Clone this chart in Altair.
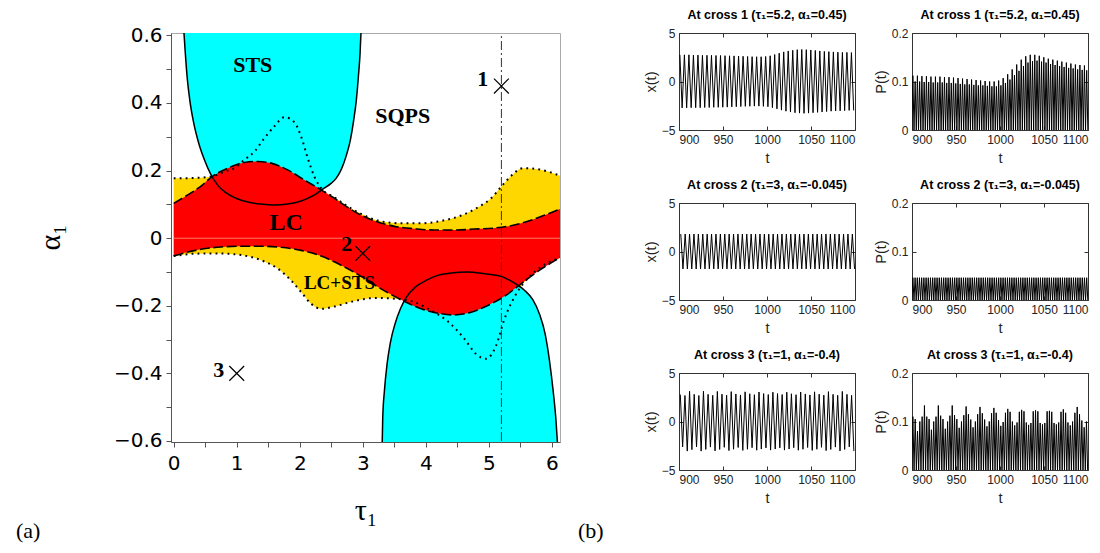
import altair as alt
import pandas as pd

# ---------------- (a) phase diagram: curves ----------------
sts_top_tau = [0.159, 0.180, 0.212, 0.254, 0.317, 0.397, 0.487, 0.593, 0.698, 0.815,
               0.989, 1.175, 1.386, 1.598, 1.810, 2.021, 2.206, 2.365, 2.497, 2.577,
               2.656, 2.735, 2.804, 2.857, 2.899, 2.931, 2.958, 2.974]
sts_top_alpha = [0.618, 0.558, 0.479, 0.410, 0.341, 0.281, 0.232, 0.187, 0.157, 0.136,
                 0.118, 0.107, 0.101, 0.098, 0.101, 0.110, 0.125, 0.145, 0.162, 0.177,
                 0.202, 0.242, 0.291, 0.350, 0.410, 0.479, 0.549, 0.618]

sts_bot_tau = [3.307, 3.317, 3.344, 3.386, 3.439, 3.513, 3.598, 3.688, 3.847, 4.005,
               4.190, 4.402, 4.667, 4.931, 5.196, 5.407, 5.566, 5.698, 5.804, 5.894,
               5.963, 6.021, 6.063, 6.095]
sts_bot_alpha = [-0.620, -0.531, -0.451, -0.372, -0.308, -0.253, -0.209, -0.176, -0.143, -0.125,
                 -0.110, -0.103, -0.100, -0.105, -0.113, -0.133, -0.154, -0.182, -0.224, -0.283,
                 -0.362, -0.451, -0.531, -0.620]

lc_up_tau = [0.0, 0.222, 0.434, 0.593, 0.857, 1.122, 1.333, 1.545, 1.810, 2.074,
             2.339, 2.550, 2.762, 2.974, 3.238, 3.503, 3.820, 4.138, 4.455, 4.772,
             5.090, 5.354, 5.619, 5.884, 6.138]
lc_up_alpha = [0.103, 0.128, 0.154, 0.180, 0.207, 0.224, 0.227, 0.222, 0.202, 0.172,
               0.143, 0.118, 0.091, 0.068, 0.048, 0.035, 0.028, 0.024, 0.024, 0.027,
               0.030, 0.037, 0.050, 0.068, 0.087]

lc_low_tau = [0.0, 0.222, 0.434, 0.751, 1.069, 1.386, 1.704, 2.021, 2.339, 2.656,
              2.974, 3.291, 3.608, 3.926, 4.190, 4.455, 4.720, 4.984, 5.249, 5.513,
              5.778, 6.138]
lc_low_alpha = [-0.053, -0.041, -0.033, -0.026, -0.024, -0.024, -0.027, -0.036, -0.053, -0.080,
                -0.113, -0.150, -0.182, -0.209, -0.222, -0.227, -0.219, -0.199, -0.172, -0.135,
                -0.098, -0.057]

dot_up_tau = [0.0, 0.275, 0.593, 0.804, 0.963, 1.122, 1.280, 1.439, 1.598, 1.757,
              1.915, 2.021, 2.127, 2.233, 2.339, 2.550, 2.762, 2.974, 3.238, 3.608,
              3.926, 4.243, 4.561, 4.825, 5.037, 5.196, 5.354, 5.540, 5.778, 6.138]
dot_up_alpha = [0.177, 0.178, 0.182, 0.196, 0.207, 0.232, 0.256, 0.296, 0.331, 0.358,
                0.343, 0.301, 0.237, 0.182, 0.148, 0.121, 0.094, 0.072, 0.052, 0.044,
                0.044, 0.051, 0.067, 0.091, 0.118, 0.152, 0.184, 0.207, 0.204, 0.184]

dot_low_tau = [0.0, 0.328, 0.698, 1.069, 1.386, 1.651, 1.862, 2.021, 2.180, 2.339,
               2.550, 2.868, 3.185, 3.503, 3.767, 4.085, 4.349, 4.614, 4.799, 4.958,
               5.116, 5.249, 5.407, 5.566, 5.778, 6.138]
dot_low_alpha = [-0.053, -0.046, -0.045, -0.050, -0.065, -0.090, -0.125, -0.159, -0.194, -0.209,
                 -0.202, -0.186, -0.177, -0.179, -0.186, -0.214, -0.246, -0.298, -0.343, -0.357,
                 -0.318, -0.239, -0.174, -0.130, -0.092, -0.057]

vline_tau = [5.2, 5.2]
vline_alpha = [-0.6, 0.6]
zero_tau = [0.0, 6.138]
zero_alpha = [0.0, 0.0]

cross_tau = [5.2, 3.0, 1.0]
cross_alpha = [0.45, -0.045, -0.4]

label_text = ["STS", "SQPS", "LC", "LC+STS", "1", "2", "3"]
label_tau = [1.254, 3.635, 1.783, 2.63, 4.905, 2.746, 0.714]
label_alpha = [0.511, 0.362, 0.044, -0.132, 0.471, -0.016, -0.389]
label_size = [22, 22, 24, 19, 22, 22, 22]

# ---------------- (b) time series: extrema ----------------
x1_t0, x1_period = 901.0, 5.13
x1_max = [2.75, 2.75, 2.75, 2.72, 2.72, 2.70, 2.70, 2.70, 2.68, 2.68,
          2.66, 2.65, 2.64, 2.62, 2.60, 2.58, 2.56, 2.55, 2.55, 2.58,
          2.65, 2.78, 2.92, 3.05, 3.15, 3.22, 3.28, 3.30, 3.28, 3.25,
          3.20, 3.15, 3.10, 3.08, 3.05, 3.02, 3.00, 3.00, 2.98]
x1_min = [-2.72, -2.72, -2.70, -2.70, -2.70, -2.68, -2.68, -2.66, -2.66, -2.65,
          -2.64, -2.62, -2.60, -2.58, -2.56, -2.55, -2.54, -2.54, -2.56, -2.60,
          -2.70, -2.82, -2.95, -3.06, -3.15, -3.22, -3.26, -3.28, -3.26, -3.22,
          -3.18, -3.14, -3.10, -3.06, -3.04, -3.02, -3.00, -2.98, -2.98]
p1_hi = [0.112, 0.112, 0.111, 0.111, 0.110, 0.110, 0.110, 0.109, 0.109, 0.108,
         0.107, 0.106, 0.105, 0.104, 0.103, 0.102, 0.101, 0.100, 0.100, 0.102,
         0.107, 0.115, 0.125, 0.135, 0.145, 0.152, 0.155, 0.155, 0.153, 0.150,
         0.147, 0.145, 0.143, 0.141, 0.139, 0.137, 0.135, 0.134, 0.133]
p1_lo = [0.100, 0.100, 0.099, 0.099, 0.098, 0.098, 0.098, 0.097, 0.097, 0.096,
         0.095, 0.094, 0.094, 0.093, 0.092, 0.092, 0.091, 0.090, 0.090, 0.092,
         0.097, 0.104, 0.113, 0.122, 0.132, 0.139, 0.142, 0.143, 0.141, 0.139,
         0.136, 0.134, 0.132, 0.130, 0.128, 0.127, 0.125, 0.124, 0.123]

x2_t0, x2_period = 902.0, 5.0
x2_max = [1.8, 1.8, 1.8, 1.8, 1.8, 1.8, 1.8, 1.8, 1.8, 1.8,
          1.8, 1.8, 1.8, 1.8, 1.8, 1.8, 1.8, 1.8, 1.8, 1.8,
          1.8, 1.8, 1.8, 1.8, 1.8, 1.8, 1.8, 1.8, 1.8, 1.8,
          1.8, 1.8, 1.8, 1.8, 1.8, 1.8, 1.8, 1.8, 1.8, 1.8]
x2_min = [-1.8, -1.8, -1.8, -1.8, -1.8, -1.8, -1.8, -1.8, -1.8, -1.8,
          -1.8, -1.8, -1.8, -1.8, -1.8, -1.8, -1.8, -1.8, -1.8, -1.8,
          -1.8, -1.8, -1.8, -1.8, -1.8, -1.8, -1.8, -1.8, -1.8, -1.8,
          -1.8, -1.8, -1.8, -1.8, -1.8, -1.8, -1.8, -1.8, -1.8, -1.8]
p2_spikes = [0.046, 0.046, 0.046, 0.046, 0.046, 0.046, 0.046, 0.046, 0.046, 0.046,
             0.046, 0.046, 0.046, 0.046, 0.046, 0.046, 0.046, 0.046, 0.046, 0.046,
             0.046, 0.046, 0.046, 0.046, 0.046, 0.046, 0.046, 0.046, 0.046, 0.046,
             0.046, 0.046, 0.046, 0.046, 0.046, 0.046, 0.046, 0.046, 0.046, 0.046,
             0.046, 0.046, 0.046, 0.046, 0.046, 0.046, 0.046, 0.046, 0.046, 0.046,
             0.046, 0.046, 0.046, 0.046, 0.046, 0.046, 0.046, 0.046, 0.046, 0.046,
             0.046, 0.046, 0.046, 0.046, 0.046, 0.046, 0.046, 0.046, 0.046, 0.046,
             0.046, 0.046, 0.046, 0.046, 0.046, 0.046, 0.046, 0.046, 0.046, 0.046]

x3_t0, x3_period = 901.5, 5.26
x3_max = [2.78, 2.68, 3.12, 2.80, 2.68, 3.12, 2.80, 2.70, 3.10, 2.82,
          2.72, 3.08, 2.84, 2.74, 3.06, 2.86, 2.76, 3.04, 2.88, 2.78,
          3.02, 2.88, 2.78, 3.02, 2.86, 2.76, 3.04, 2.84, 2.74, 3.06,
          2.82, 2.72, 3.08, 2.80, 2.70, 3.10, 2.80, 2.70]
x3_min = [-2.62, -3.05, -2.90, -2.62, -3.05, -2.88, -2.64, -3.03, -2.88, -2.66,
          -3.00, -2.86, -2.68, -2.98, -2.86, -2.70, -2.96, -2.84, -2.72, -2.95,
          -2.84, -2.72, -2.95, -2.84, -2.70, -2.96, -2.86, -2.68, -2.98, -2.86,
          -2.66, -3.00, -2.88, -2.64, -3.03, -2.88, -2.62, -3.05]
p3_spikes = [0.110, 0.105, 0.080, 0.100, 0.110, 0.133,
             0.110, 0.105, 0.083, 0.100, 0.110, 0.133,
             0.112, 0.105, 0.085, 0.100, 0.112, 0.133,
             0.113, 0.105, 0.087, 0.100, 0.113, 0.131,
             0.115, 0.104, 0.088, 0.100, 0.115, 0.130,
             0.117, 0.104, 0.090, 0.100, 0.117, 0.128,
             0.118, 0.103, 0.091, 0.099, 0.118, 0.126,
             0.120, 0.100, 0.092, 0.098, 0.120, 0.124,
             0.121, 0.098, 0.093, 0.097, 0.121, 0.123,
             0.121, 0.097, 0.094, 0.097, 0.121, 0.122,
             0.120, 0.097, 0.094, 0.098, 0.120, 0.125,
             0.118, 0.098, 0.092, 0.100, 0.118, 0.130,
             0.115, 0.102, 0.088, 0.100]

titles = ["At cross 1 (\u03c4\u2081=5.2, \u03b1\u2081=0.45)",
          "At cross 2 (\u03c4\u2081=3, \u03b1\u2081=-0.045)",
          "At cross 3 (\u03c4\u2081=1, \u03b1\u2081=-0.4)"]

SERIF = "Liberation Serif, DejaVu Serif, serif"
NARROW = "Liberation Sans Narrow, Liberation Sans, Arial, sans-serif"

# ---------------- panel (a) ----------------
def df2(t, a):
    return pd.DataFrame({"tau": t, "alpha": a})

ax_x = alt.Axis(values=[0, 0.5, 1, 1.5, 2, 2.5, 3, 3.5, 4, 4.5, 5, 5.5, 6],
                labelExpr="datum.value % 1 == 0 ? format(datum.value, 'd') : ''",
                title="\u03c4\u2081", titleFont=SERIF, titleFontSize=30, titleFontWeight="normal",
                titlePadding=22, labelFont="DejaVu Sans", labelFontSize=20, labelPadding=6,
                tickSize=5, domainColor="#555", tickColor="#555", labelColor="black",
                titleColor="black", grid=False)
ax_y = alt.Axis(values=[-0.6, -0.5, -0.4, -0.3, -0.2, -0.1, 0, 0.1, 0.2, 0.3, 0.4, 0.5, 0.6],
                labelExpr="abs(round(datum.value * 10)) % 2 == 0 ? (datum.value == 0 ? '0' : format(datum.value, '.1f')) : ''",
                title="\u03b1\u2081", titleFont=SERIF, titleFontSize=30, titleFontWeight="normal",
                titleAngle=270, titleX=-121, titleY=204, titleBaseline="middle", titleAlign="center",
                labelFont="DejaVu Sans", labelFontSize=20, labelPadding=4,
                tickSize=5, domainColor="#555", tickColor="#555", labelColor="black",
                titleColor="black", grid=False)

X = alt.X("tau:Q", scale=alt.Scale(domain=[-0.043, 6.13], nice=False, zero=False), axis=ax_x)
Y = alt.Y("alpha:Q", scale=alt.Scale(domain=[-0.603, 0.607], nice=False, zero=False), axis=ax_y)


def area(t, a, base, color):
    return alt.Chart(df2(t, a)).mark_area(color=color, interpolate="monotone", clip=True,
                                          opacity=1).encode(x=X, y=Y, y2=alt.datum(base))


def line(t, a, dash=None, width=1.5, color="black"):
    kw = dict(color=color, strokeWidth=width, interpolate="monotone", clip=True)
    if dash is not None:
        kw["strokeDash"] = dash
    return alt.Chart(df2(t, a)).mark_line(**kw).encode(x=X, y=Y)


CYAN, RED, GOLD = "#00FFFF", "#FF0000", "#FFD700"

layers = [
    area(dot_up_tau, dot_up_alpha, 0, GOLD),
    area(dot_low_tau, dot_low_alpha, 0, GOLD),
    area(sts_top_tau, sts_top_alpha, 0.607, CYAN),
    area(sts_bot_tau, sts_bot_alpha, -0.603, CYAN),
    area(lc_up_tau, lc_up_alpha, 0, RED),
    area(lc_low_tau, lc_low_alpha, 0, RED),
    line(zero_tau, zero_alpha, width=0.7, color="#ff8c8c"),
    line(dot_up_tau, dot_up_alpha, dash=[1.8, 4.2], width=2),
    line(dot_low_tau, dot_low_alpha, dash=[1.8, 4.2], width=2),
    line(lc_up_tau, lc_up_alpha, dash=[10, 3.5], width=1.6),
    line(lc_low_tau, lc_low_alpha, dash=[10, 3.5], width=1.6),
    line(sts_top_tau, sts_top_alpha, width=1.5),
    line(sts_bot_tau, sts_bot_alpha, width=1.5),
    alt.Chart(df2(vline_tau, vline_alpha)).mark_line(color="#333", strokeWidth=1,
                                                   strokeDash=[9, 3, 2, 3]).encode(x=X, y=Y),
    alt.Chart(df2(cross_tau, cross_alpha)).mark_point(
        shape="M-1,-1L1,1M-1,1L1,-1", size=220, filled=False, color="black",
        strokeWidth=1.2, opacity=1).encode(x=X, y=Y),
    alt.Chart(pd.DataFrame({"tau": label_tau, "alpha": label_alpha, "txt": label_text,
                            "fs": label_size})).mark_text(
        font=SERIF, fontWeight="bold", color="black", align="center", baseline="middle"
    ).encode(x=X, y=Y, text="txt:N", size=alt.Size("fs:Q", scale=None, legend=None)),
    alt.Chart(pd.DataFrame({"txt": ["(a)"]})).mark_text(
        font=SERIF, fontSize=22, align="left", baseline="middle", color="black"
    ).encode(x=alt.value(-155), y=alt.value(498), text="txt:N"),
    alt.Chart(pd.DataFrame({"txt": ["(b)"]})).mark_text(
        font=SERIF, fontSize=22, align="left", baseline="middle", color="black"
    ).encode(x=alt.value(407), y=alt.value(498), text="txt:N"),
]

left = alt.layer(*layers).properties(width=389, height=409,
                                     view=alt.ViewBackground(stroke="#aaa"))

# ---------------- panel (b) ----------------
def x_rows(t0, period, mx, mn):
    t, v = [], []
    for k in range(len(mx)):
        t.append(t0 + k * period); v.append(mx[k])
        t.append(t0 + (k + 0.5) * period); v.append(mn[k])
    return pd.DataFrame({"t": t, "v": v})


def p_rows(t0, half, spikes):
    t, v = [], []
    for j, h in enumerate(spikes):
        tc = t0 + j * half
        t.append(tc - half / 2); v.append(0.0)
        t.append(tc); v.append(h)
    t.append(t0 + len(spikes) * half - half / 2); v.append(0.0)
    return pd.DataFrame({"t": t, "v": v})


def interleave(a, b):
    out = []
    for p, q in zip(a, b):
        out += [p, q]
    return out


ax_common = dict(offset=-4, tickSize=4, domain=False, labelFont=NARROW, labelFontSize=12,
                 titleFont=NARROW, titleFontSize=14.5, titleFontWeight="normal",
                 labelColor="#222", titleColor="#222", tickColor="#333", grid=False)
XTICKS = [900, 950, 1000, 1050, 1100]


def ts(df, ydom, yvals, yfmt, ytitle, title, w):
    xs = alt.Scale(domain=[900, 1100], nice=False, zero=False)
    ys = alt.Scale(domain=ydom, nice=False, zero=False)
    main = alt.Chart(df).mark_line(color="black", strokeWidth=1.0, clip=True).encode(
        x=alt.X("t:Q", scale=xs,
                axis=alt.Axis(values=XTICKS, format="d", title="t",
                              labelPadding=4, titlePadding=6, **ax_common)),
        y=alt.Y("v:Q", scale=ys,
                axis=alt.Axis(values=yvals, format=yfmt, title=ytitle, labelPadding=4,
                              titlePadding=3, **ax_common)),
    )
    mirror = alt.Chart(df).mark_line(opacity=0).encode(
        x=alt.X("t:Q", scale=xs,
                axis=alt.Axis(values=XTICKS, orient="top", labels=False, title=None,
                              offset=-4, tickSize=4, domain=False, tickColor="#333", grid=False)),
        y=alt.Y("v:Q", scale=ys,
                axis=alt.Axis(values=yvals, orient="right", labels=False, title=None,
                              offset=-4, tickSize=4, domain=False, tickColor="#333", grid=False)),
    )
    return alt.layer(main, mirror).resolve_axis(x="independent", y="independent").properties(
        width=w, height=97,
        title=alt.TitleParams(title, font=NARROW, fontSize=12.5, fontWeight="bold",
                              color="black", offset=6),
        view=alt.ViewBackground(stroke="#333"))


WX, WP = 176, 176
panels = []
specs = [
    (x_rows(x1_t0, x1_period, x1_max, x1_min), p_rows(x1_t0, x1_period / 2, interleave(p1_hi, p1_lo))),
    (x_rows(x2_t0, x2_period, x2_max, x2_min), p_rows(901.0, x2_period / 2, p2_spikes)),
    (x_rows(x3_t0, x3_period, x3_max, x3_min), p_rows(901.0, x3_period / 2, p3_spikes)),
]
for i, (dx, dp) in enumerate(specs):
    panels.append(ts(dx, [-5, 5], [-5, 0, 5], "d", "x(t)", titles[i], WX))
    panels.append(ts(dp, [0, 0.2], [0, 0.1, 0.2], ".1~f", "P(t)", titles[i], WP))

right = alt.concat(*panels, columns=2, spacing={"row": 73, "column": 57}, bounds="flush")

chart = alt.hconcat(left, right, spacing=119, bounds="flush").properties(
    padding={"left": 7, "top": 0, "right": 0, "bottom": 0}
).configure_axis(grid=False)

chart.save("out.html", embed_options={"renderer": "svg", "actions": False})
